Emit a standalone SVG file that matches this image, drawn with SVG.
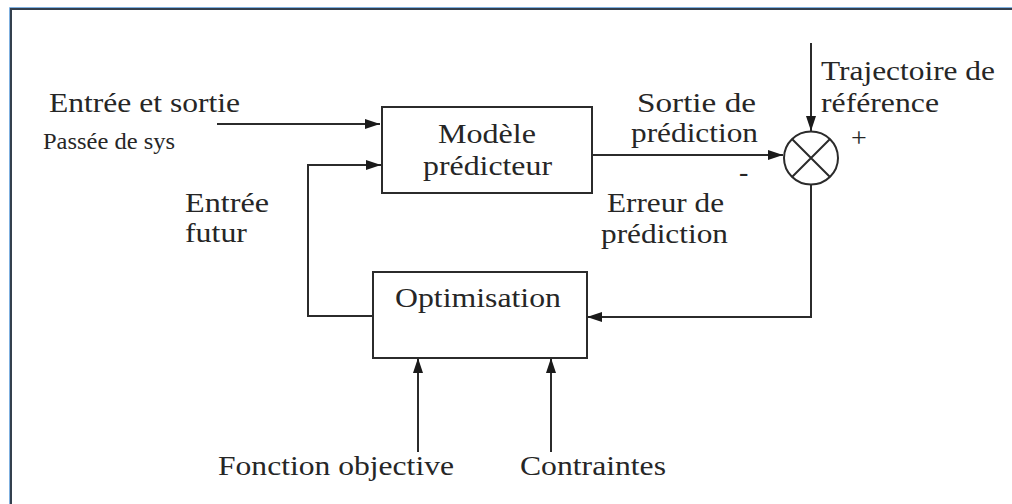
<svg xmlns="http://www.w3.org/2000/svg" width="1012" height="504" viewBox="0 0 1012 504">
<style>
.ln{fill:none;stroke:#2b2b2b;stroke-width:2}
.bx{fill:#fff;stroke:#2b2b2b;stroke-width:2}
</style>
<defs>
<marker id="ah" markerUnits="userSpaceOnUse" markerWidth="16" markerHeight="11" refX="15" refY="5" orient="auto">
<path d="M0,0 L15,5 L0,10 Z" fill="#1a1a1a"/>
</marker>
</defs>
<rect width="1012" height="504" fill="#fff"/>
<g id="frame">
<path d="M9.5,504 V7.5 H1012" fill="none" stroke="#7fb0e0" stroke-width="1"/>
<path d="M11,504 V9 H1012" fill="none" stroke="#34404e" stroke-width="2"/>
</g>
<g id="connectors">
<path class="ln" d="M217,124 H380" marker-end="url(#ah)"/>
<path class="ln" d="M373,316 H308 V165 H381" marker-end="url(#ah)"/>
<path class="ln" d="M592,155 H783" marker-end="url(#ah)"/>
<path class="ln" d="M811,43 V131" marker-end="url(#ah)"/>
<path class="ln" d="M811,185 V317 H587" marker-end="url(#ah)"/>
<path class="ln" d="M418,452 V358" marker-end="url(#ah)"/>
<path class="ln" d="M551,452 V358" marker-end="url(#ah)"/>
</g>
<g font-family="Liberation Serif, Times New Roman, serif" font-size="28" fill="#262626">
<g id="modele">
<rect class="bx" x="382" y="107" width="210" height="86"/>
<text x="438" y="143" textLength="98" lengthAdjust="spacingAndGlyphs">Modèle</text>
<text x="423" y="175" textLength="129" lengthAdjust="spacingAndGlyphs">prédicteur</text>
</g>
<g id="optimisation">
<rect class="bx" x="373" y="272" width="214" height="86"/>
<text x="395" y="307" textLength="166" lengthAdjust="spacingAndGlyphs">Optimisation</text>
</g>
<g id="comparateur">
<ellipse cx="811" cy="158" rx="27" ry="26.5" fill="#fff" stroke="#2b2b2b" stroke-width="2"/>
<path class="ln" d="M792,139 L830,177 M830,139 L792,177"/>
</g>
<g id="labels">
<text x="49" y="112" textLength="191" lengthAdjust="spacingAndGlyphs">Entrée et sortie</text>
<text font-size="24" x="43" y="149" textLength="132" lengthAdjust="spacingAndGlyphs">Passée de sys</text>
<text x="637" y="112" textLength="119" lengthAdjust="spacingAndGlyphs">Sortie  de</text>
<text x="631" y="142" textLength="127" lengthAdjust="spacingAndGlyphs">prédiction</text>
<text x="821" y="80" textLength="174" lengthAdjust="spacingAndGlyphs">Trajectoire de</text>
<text x="821" y="112" textLength="118" lengthAdjust="spacingAndGlyphs">référence</text>
<text x="851" y="147">+</text>
<text x="739" y="181">-</text>
<text x="185" y="212" textLength="84" lengthAdjust="spacingAndGlyphs">Entrée</text>
<text x="185" y="242" textLength="62" lengthAdjust="spacingAndGlyphs">futur</text>
<text x="607" y="212" textLength="117" lengthAdjust="spacingAndGlyphs">Erreur de</text>
<text x="601" y="243" textLength="127" lengthAdjust="spacingAndGlyphs">prédiction</text>
<text x="218" y="475" textLength="236" lengthAdjust="spacingAndGlyphs">Fonction objective</text>
<text x="520" y="475" textLength="146" lengthAdjust="spacingAndGlyphs">Contraintes</text>
</g>
</g>
</svg>
